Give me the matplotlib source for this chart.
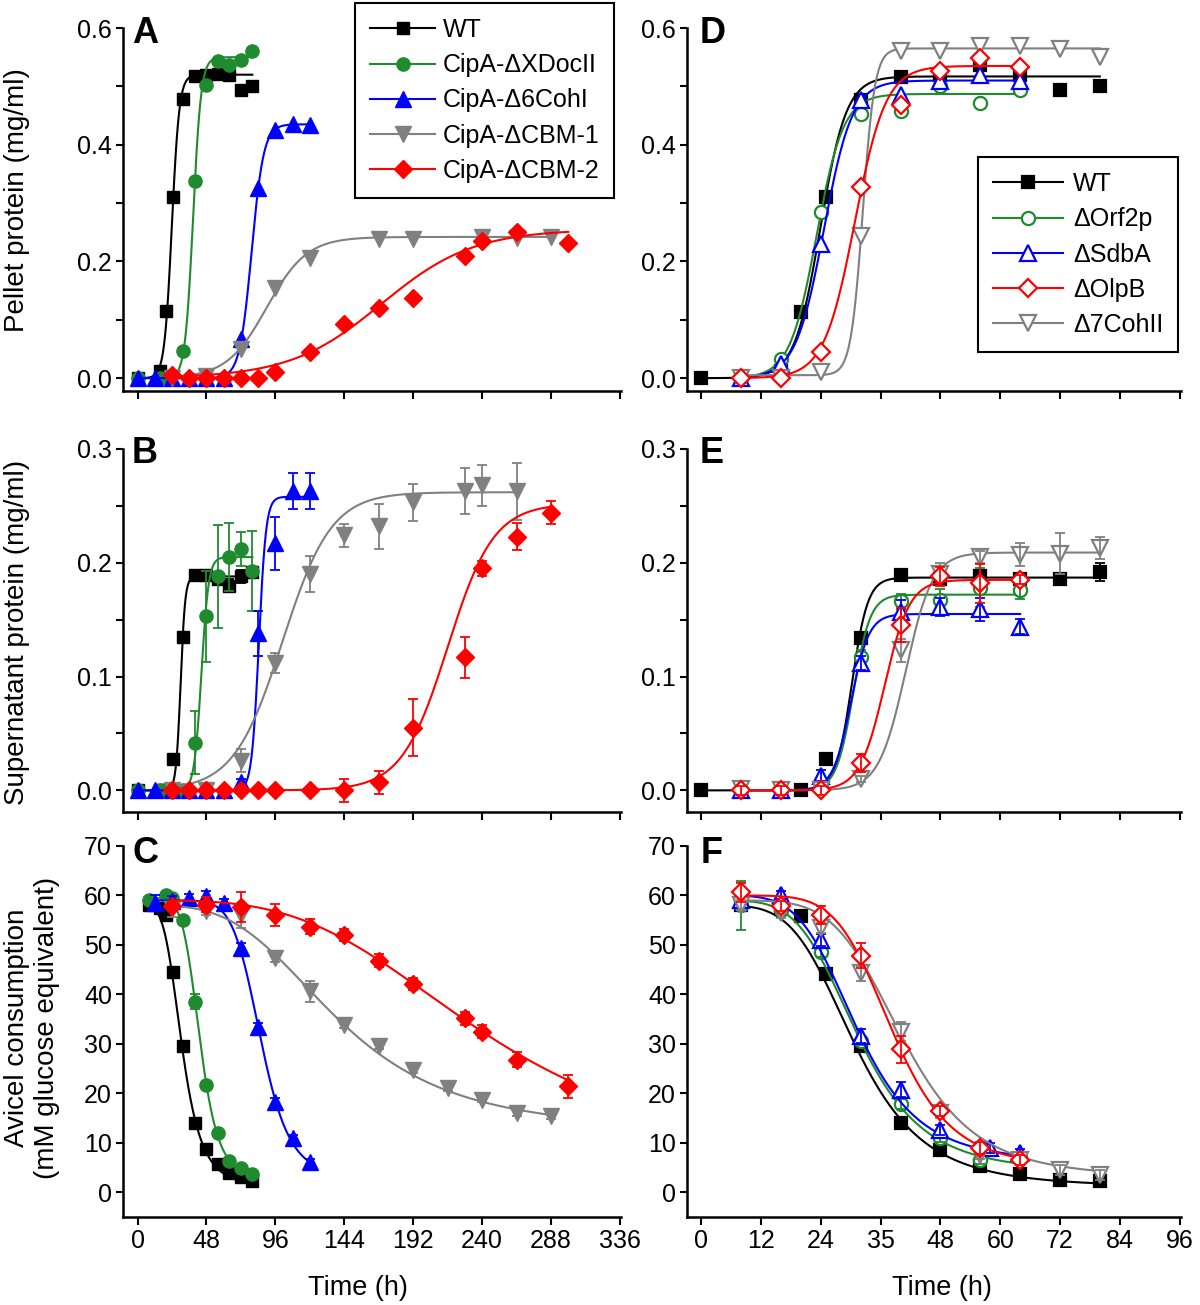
import numpy as np
import matplotlib
matplotlib.use("Agg")
import matplotlib.pyplot as plt
from matplotlib.lines import Line2D
from matplotlib.ticker import MultipleLocator

plt.rcParams['font.family'] = ['Liberation Sans', 'DejaVu Sans']

left_names = ["WT", "CipA-ΔXDocII", "CipA-Δ6CohI", "CipA-ΔCBM-1", "CipA-ΔCBM-2"]
right_names = ["WT", "ΔOrf2p", "ΔSdbA", "ΔOlpB", "Δ7CohII"]
left_colors = ["#000000", "#1f8a2e", "#0000ff", "#808080", "#ff0000"]
left_marks = ["s", "o", "^", "v", "D"]
left_msizes = [8.5, 9.5, 11, 11, 9.5]
left_layers = [0, 1, 2, 3, 4]
right_colors = ["#000000", "#1f8a2e", "#0000ff", "#ff0000", "#808080"]
right_marks = ["s", "o", "^", "D", "v"]
right_msizes = [8.5, 9.5, 11, 9.5, 11]
right_layers = [0, 1, 2, 4, 3]   # red drawn above grey, as in the figure

left_xticks = [0, 48, 96, 144, 192, 240, 288, 336]
right_xticks = [0, 12, 24, 36, 48, 60, 72, 84, 96]
right_xticklabels = ["0", "12", "24", "35", "48", "60", "72", "84", "96"]

# ---------------- A: pellet protein (mg/ml), CipA mutants
a_wt_t = [0, 16, 20, 25, 32, 40, 48, 56, 64, 72, 80]
a_wt_y = [0, 0.013, 0.115, 0.31, 0.478, 0.517, 0.52, 0.522, 0.519, 0.493, 0.5]
a_xd_t = [0, 16, 32, 40, 48, 56, 64, 72, 80]
a_xd_y = [0, 0, 0.047, 0.338, 0.502, 0.544, 0.536, 0.545, 0.561]
a_co_t = [0, 12, 24, 36, 48, 60, 72, 84, 96, 108, 120]
a_co_y = [0, 0, 0, 0, 0, 0, 0.067, 0.326, 0.425, 0.435, 0.434]
a_c1_t = [24, 48, 72, 96, 120, 168, 192, 240, 264, 288]
a_c1_y = [0, 0.003, 0.05, 0.155, 0.206, 0.239, 0.239, 0.242, 0.24, 0.242]
a_c2_t = [24, 36, 48, 60, 72, 84, 96, 120, 144, 168, 192, 228, 240, 264, 300]
a_c2_y = [0.005, 0, 0, 0, 0, 0, 0.01, 0.044, 0.093, 0.121, 0.138, 0.209, 0.235, 0.25, 0.232]
# Boltzmann fits (start, end, x0, dx)
a_fits = [(0, 0.52, 23.9, 2.6), (0, 0.55, 38.7, 2.8), (0, 0.435, 79.5, 4.2),
          (0, 0.242, 90, 14), (0, 0.255, 170, 32)]

# ---------------- B: supernatant protein (mg/ml)
b_wt_t = [0, 16, 20, 25, 32, 40, 48, 56, 64, 72, 80]
b_wt_y = [0, 0, 0, 0.028, 0.135, 0.189, 0.189, 0.186, 0.18, 0.188, 0.192]
b_wt_e = [0, 0, 0, 0.002, 0.004, 0.003, 0.004, 0.004, 0.006, 0.006, 0.004]
b_xd_t = [0, 16, 24, 32, 40, 48, 56, 64, 72, 80]
b_xd_y = [0, 0, 0, 0, 0.042, 0.153, 0.188, 0.205, 0.212, 0.193]
b_xd_e = [0, 0, 0, 0, 0.028, 0.04, 0.045, 0.03, 0.015, 0.035]
b_co_t = [0, 12, 24, 36, 48, 60, 72, 84, 96, 108, 120]
b_co_y = [0, 0, 0, 0, 0, 0, 0.007, 0.138, 0.217, 0.263, 0.263]
b_co_e = [0, 0, 0, 0, 0, 0, 0.003, 0.02, 0.023, 0.016, 0.016]
b_c1_t = [24, 48, 72, 96, 120, 144, 168, 192, 228, 240, 264]
b_c1_y = [0, 0, 0.026, 0.112, 0.19, 0.224, 0.232, 0.253, 0.263, 0.268, 0.263]
b_c1_e = [0, 0, 0.01, 0.009, 0.016, 0.01, 0.02, 0.016, 0.02, 0.018, 0.025]
b_c2_t = [24, 36, 48, 60, 72, 84, 96, 120, 144, 168, 192, 228, 240, 264, 288]
b_c2_y = [0, 0, 0, 0, 0, 0, 0, 0, 0, 0.007, 0.055, 0.117, 0.195, 0.223, 0.244]
b_c2_e = [0, 0, 0, 0, 0, 0, 0, 0, 0.01, 0.01, 0.025, 0.018, 0.007, 0.012, 0.01]
b_fits = [(0, 0.188, 30, 1.6), (0, 0.205, 44.5, 2.5), (0, 0.258, 84.5, 2.5),
          (0, 0.262, 101, 17), (0, 0.252, 216, 16)]

# ---------------- C: Avicel consumption (mM glucose equivalent)
c_wt_t = [8, 16, 20, 25, 32, 40, 48, 56, 64, 72, 80]
c_wt_y = [58, 57.5, 56, 44.5, 29.6, 14.1, 8.7, 5.7, 3.8, 3.0, 2.2]
c_wt_e = [0.5, 0.5, 0.5, 0.6, 0.6, 0.5, 0.5, 0.4, 0.4, 0.3, 0.3]
c_xd_t = [8, 20, 24, 32, 40, 48, 56, 64, 72, 80]
c_xd_y = [59, 60.1, 59.5, 55, 38.5, 21.7, 11.9, 6.4, 4.85, 3.6]
c_xd_e = [0.5, 0.5, 0.5, 0.6, 1.5, 0.8, 0.6, 0.5, 0.5, 0.5]
c_co_t = [12, 24, 36, 48, 60, 72, 84, 96, 108, 120]
c_co_y = [58.5, 58.8, 59.4, 59.8, 58.4, 49.3, 33.5, 18.3, 10.9, 6.2]
c_co_e = [1.5, 1, 0.8, 1.2, 0.8, 1, 0.8, 0.8, 0.6, 0.5]
c_c1_t = [24, 48, 72, 96, 120, 144, 168, 192, 216, 240, 264, 288]
c_c1_y = [57.2, 56.8, 56.0, 47.3, 40.6, 33.8, 29.6, 24.7, 21.0, 18.7, 16.0, 15.4]
c_c1_e = [1.5, 0.8, 2.5, 0.8, 2.2, 0.6, 0.6, 0.6, 0.5, 0.5, 0.5, 0.5]
c_c2_t = [24, 48, 72, 96, 120, 144, 168, 192, 228, 240, 264, 300]
c_c2_y = [57.9, 58.1, 57.6, 56.1, 53.7, 52.0, 46.8, 42.1, 35.2, 32.5, 26.8, 21.4]
c_c2_e = [1, 1.5, 3, 2.2, 1.5, 1.2, 1.3, 1.2, 1.3, 1.3, 1.5, 2.3]
# logistic fits (start, end, x0, power)
c_fits = [(58, 1, 31, 4.5), (59.5, 2.5, 43.4, 6.7), (59, 3, 85.8, 8.5),
          (58, 12, 139.7, 3.4), (59, 5, 242.5, 3.4)]

# ---------------- D: pellet protein, scaffoldin-related deletions
d_wt_t = [0, 16, 20, 25, 32, 40, 48, 56, 64, 72, 80]
d_wt_y = [0, 0.013, 0.114, 0.31, 0.476, 0.516, 0.52, 0.536, 0.519, 0.494, 0.5]
d_or_t = [8, 16, 24, 32, 40, 48, 56, 64]
d_or_y = [0, 0.033, 0.285, 0.453, 0.458, 0.5, 0.472, 0.494]
d_sd_t = [8, 16, 24, 32, 40, 48, 56, 64]
d_sd_y = [0, 0.024, 0.23, 0.476, 0.485, 0.51, 0.52, 0.51]
d_ol_t = [8, 16, 24, 32, 40, 48, 56, 64]
d_ol_y = [0, 0, 0.044, 0.327, 0.468, 0.527, 0.549, 0.533]
d_c7_t = [8, 16, 24, 32, 40, 48, 56, 64, 72, 80]
d_c7_y = [0, 0, 0.011, 0.243, 0.561, 0.561, 0.57, 0.57, 0.564, 0.55]
d_fits = [(0, 0.517, 23.9, 2.6), (0, 0.487, 23.1, 2.7), (0, 0.51, 24.6, 2.85),
          (0, 0.535, 30.8, 3.1), (0.005, 0.565, 32.4, 1.2)]

# ---------------- E: supernatant protein
e_wt_t = [0, 20, 25, 32, 40, 48, 56, 64, 72, 80]
e_wt_y = [0, 0, 0.028, 0.134, 0.189, 0.186, 0.188, 0.186, 0.186, 0.192]
e_wt_e = [0, 0, 0.003, 0.003, 0.003, 0.003, 0.004, 0.003, 0.003, 0.008]
e_or_t = [8, 16, 24, 32, 40, 48, 56, 64]
e_or_y = [0, 0, 0.003, 0.117, 0.166, 0.167, 0.178, 0.176]
e_or_e = [0.003, 0.003, 0.003, 0.006, 0.007, 0.01, 0.017, 0.008]
e_sd_t = [8, 16, 24, 32, 40, 48, 56, 64]
e_sd_y = [0, 0, 0.013, 0.112, 0.157, 0.161, 0.159, 0.144]
e_sd_e = [0.003, 0.003, 0.005, 0.006, 0.01, 0.008, 0.01, 0.007]
e_ol_t = [8, 16, 24, 32, 40, 48, 56, 64]
e_ol_y = [0, 0, 0, 0.024, 0.145, 0.188, 0.182, 0.185]
e_ol_e = [0.004, 0.004, 0.004, 0.008, 0.015, 0.008, 0.017, 0.004]
e_c7_t = [8, 16, 24, 32, 40, 48, 56, 64, 72, 80]
e_c7_y = [0.001, 0, 0, 0.010, 0.123, 0.19, 0.205, 0.207, 0.208, 0.213]
e_c7_e = [0.003, 0.003, 0.003, 0.003, 0.01, 0.01, 0.005, 0.01, 0.018, 0.01]
e_fits = [(0, 0.187, 30.2, 1.6), (0, 0.172, 30.5, 1.7), (0, 0.155, 30.0, 1.8),
          (0, 0.185, 36.8, 2.5), (0, 0.209, 41, 2.7)]

# ---------------- F: Avicel consumption
f_wt_t = [8, 16, 20, 25, 32, 40, 48, 56, 64, 72, 80]
f_wt_y = [58, 57.5, 55.9, 44.1, 29.6, 14.1, 8.6, 5.3, 3.6, 2.5, 2.2]
f_wt_e = [0.5, 0.5, 0.5, 0.6, 0.6, 0.5, 0.5, 0.4, 0.4, 0.3, 0.3]
f_or_t = [8, 16, 24, 32, 40, 48, 56, 64]
f_or_y = [58, 57, 48.6, 30.5, 17.8, 11, 6.5, 7.2]
f_or_e = [5, 1, 1, 0.8, 1, 0.8, 0.8, 1]
f_sd_t = [8, 16, 24, 32, 40, 48, 58, 64]
f_sd_y = [59.1, 60.1, 51, 31.6, 20.7, 12.6, 8.9, 8.0]
f_sd_e = [1, 0.8, 1.2, 1.5, 1.5, 1, 1, 0.8]
f_ol_t = [8, 16, 24, 32, 40, 48, 56, 64]
f_ol_y = [60.6, 57.8, 56.1, 47.8, 28.9, 16.5, 8.9, 6.5]
f_ol_e = [2, 1, 1.8, 2.5, 2.7, 1, 1.2, 1]
f_c7_t = [8, 16, 24, 32, 40, 48, 56, 64, 72, 80]
f_c7_y = [58.1, 56.4, 53.4, 44.3, 32.5, 16, 7.5, 6.5, 4.5, 3.5]
f_c7_e = [1, 1, 1, 1.5, 2, 1, 0.8, 0.8, 1, 1]
f_fits = [(58, 1, 31, 4.5), (59, 4, 31.5, 4.8), (60, 6, 31.3, 5),
          (60, 5, 38.4, 6.5), (59, 3, 40.5, 5.5)]


def boltzmann(t, start, end, x0, dx):
    return end + (start - end) / (1 + np.exp((t - x0) / dx))


def logistic(t, start, end, x0, p):
    return end + (start - end) / (1 + (t / x0) ** p)


def px_axes(fig, x0, x1, y0, y1):
    W, H = 1200, 1305
    return fig.add_axes([x0 / W, 1 - y1 / H, (x1 - x0) / W, (y1 - y0) / H])


def draw(ax, series, fits, hollow, func=boltzmann):
    colors = right_colors if hollow else left_colors
    marks = right_marks if hollow else left_marks
    msizes = right_msizes if hollow else left_msizes
    layers = right_layers if hollow else left_layers
    for i, s in enumerate(series):
        t, y = s[0], s[1]
        c = colors[i]
        z = 3 * layers[i]
        tt = np.linspace(min(t), max(t), 400)
        ax.plot(tt, func(tt, *fits[i]), color=c, lw=1.5, zorder=2 + z)
        face = "white" if (hollow and i > 0) else c
        ax.plot(t, y, ls="none", marker=marks[i], ms=msizes[i], mfc=face, mec=c,
                mew=1.6 if hollow else 1.0, zorder=3 + z)
        if len(s) > 2:
            ax.errorbar(t, y, yerr=s[2], fmt="none", ecolor=c, elinewidth=1.3,
                        capsize=3.5, capthick=1.3, zorder=(4 if hollow else 2.5) + z)


def style(ax, xlim, xticks, ylim, yticks, yminor, xlabels=None):
    for sp in ["top", "right"]:
        ax.spines[sp].set_visible(False)
    for sp in ["left", "bottom"]:
        ax.spines[sp].set_linewidth(1.8)
    ax.set_xlim(*xlim)
    ax.set_ylim(*ylim)
    ax.set_xticks(xticks)
    ax.set_yticks(yticks)
    if yminor:
        ax.yaxis.set_minor_locator(MultipleLocator(yminor))
    ax.tick_params(axis="y", which="both", direction="out", length=5, width=1.5,
                   labelsize=18, pad=3)
    ax.tick_params(axis="x", which="both", direction="out", length=6, width=1.5,
                   labelsize=18, pad=3)
    if xlabels is None:
        ax.tick_params(axis="x", labelbottom=False)
    elif xlabels is not True:
        ax.set_xticklabels(xlabels)


fig = plt.figure(figsize=(12, 13.05), dpi=100)

left_x = (123, 621)
right_x = (687, 1181)
rows = [(28, 391), (449, 812), (846, 1217)]
left_xlim = (-10.1, 336.7)
right_xlim = (-2.9, 96.3)

axA = px_axes(fig, *left_x, *rows[0])
draw(axA, [(a_wt_t, a_wt_y), (a_xd_t, a_xd_y), (a_co_t, a_co_y),
           (a_c1_t, a_c1_y), (a_c2_t, a_c2_y)], a_fits, False)
style(axA, left_xlim, left_xticks, (-0.022, 0.6), [0, 0.2, 0.4, 0.6], 0.1)
axA.set_yticklabels(["0.0", "0.2", "0.4", "0.6"])

axB = px_axes(fig, *left_x, *rows[1])
draw(axB, [(b_wt_t, b_wt_y, b_wt_e), (b_xd_t, b_xd_y, b_xd_e), (b_co_t, b_co_y, b_co_e),
           (b_c1_t, b_c1_y, b_c1_e), (b_c2_t, b_c2_y, b_c2_e)], b_fits, False)
style(axB, left_xlim, left_xticks, (-0.019, 0.3), [0, 0.1, 0.2, 0.3], 0.05)
axB.set_yticklabels(["0.0", "0.1", "0.2", "0.3"])

axC = px_axes(fig, *left_x, *rows[2])
draw(axC, [(c_wt_t, c_wt_y, c_wt_e), (c_xd_t, c_xd_y, c_xd_e), (c_co_t, c_co_y, c_co_e),
           (c_c1_t, c_c1_y, c_c1_e), (c_c2_t, c_c2_y, c_c2_e)], c_fits, False, logistic)
style(axC, left_xlim, left_xticks, (-5, 70), range(0, 71, 10), None, True)

axD = px_axes(fig, *right_x, *rows[0])
draw(axD, [(d_wt_t, d_wt_y), (d_or_t, d_or_y), (d_sd_t, d_sd_y),
           (d_ol_t, d_ol_y), (d_c7_t, d_c7_y)], d_fits, True)
style(axD, right_xlim, right_xticks, (-0.022, 0.6), [0, 0.2, 0.4, 0.6], 0.1)
axD.set_yticklabels(["0.0", "0.2", "0.4", "0.6"])

axE = px_axes(fig, *right_x, *rows[1])
draw(axE, [(e_wt_t, e_wt_y, e_wt_e), (e_or_t, e_or_y, e_or_e), (e_sd_t, e_sd_y, e_sd_e),
           (e_ol_t, e_ol_y, e_ol_e), (e_c7_t, e_c7_y, e_c7_e)], e_fits, True)
style(axE, right_xlim, right_xticks, (-0.019, 0.3), [0, 0.1, 0.2, 0.3], 0.05)
axE.set_yticklabels(["0.0", "0.1", "0.2", "0.3"])

axF = px_axes(fig, *right_x, *rows[2])
draw(axF, [(f_wt_t, f_wt_y, f_wt_e), (f_or_t, f_or_y, f_or_e), (f_sd_t, f_sd_y, f_sd_e),
           (f_ol_t, f_ol_y, f_ol_e), (f_c7_t, f_c7_y, f_c7_e)], f_fits, True, logistic)
style(axF, right_xlim, right_xticks, (-5, 70), range(0, 71, 10), None, right_xticklabels)

# panel letters
for letter, (x, y) in zip("ABCDEF", [(132, 43), (132, 463), (132, 863),
                                     (700, 43), (700, 463), (701, 863)]):
    fig.text(x / 1200, 1 - y / 1305, letter, fontsize=26, fontweight="bold",
             ha="left", va="baseline")

# axis titles
fig.text(17 / 1200, 1 - 200 / 1305, "Pellet protein (mg/ml)", rotation=90,
         ha="center", va="center", fontsize=20)
fig.text(17 / 1200, 1 - 632 / 1305, "Supernatant protein (mg/ml)", rotation=90,
         ha="center", va="center", fontsize=20)
fig.text(32 / 1200, 1 - 1028 / 1305, "Avicel consumption\n(mM glucose equivalent)",
         rotation=90, ha="center", va="center", fontsize=20, multialignment="center")
fig.text(358 / 1200, 1 - 1288 / 1305, "Time (h)", ha="center", va="center", fontsize=19.5)
fig.text(942 / 1200, 1 - 1288 / 1305, "Time (h)", ha="center", va="center", fontsize=19.5)

# legends
left_handles = [Line2D([], [], color=left_colors[i], lw=1.5, marker=left_marks[i],
                       ms=left_msizes[i], mfc=left_colors[i], mec=left_colors[i])
                for i in range(5)]
right_handles = [Line2D([], [], color=right_colors[i], lw=1.5, marker=right_marks[i],
                        ms=right_msizes[i], mfc=right_colors[i] if i == 0 else "white",
                        mec=right_colors[i], mew=1.6)
                 for i in range(5)]
legA = fig.legend(left_handles, left_names, loc="upper left",
                  bbox_to_anchor=(355 / 1200, 1 - 3 / 1305), fontsize=18,
                  frameon=True, fancybox=False, edgecolor="black", framealpha=1,
                  handlelength=2.6, handletextpad=0.3, labelspacing=0.45,
                  borderpad=0.6, borderaxespad=0)
legA.get_frame().set_linewidth(1.5)
legD = fig.legend(right_handles, right_names, loc="upper left",
                  bbox_to_anchor=(978 / 1200, 1 - 157 / 1305), fontsize=18,
                  frameon=True, fancybox=False, edgecolor="black", framealpha=1,
                  handlelength=2.8, handletextpad=0.4, labelspacing=0.45,
                  borderpad=0.6, borderaxespad=0)
legD.get_frame().set_linewidth(1.5)

fig.savefig("out.png", dpi=100)
